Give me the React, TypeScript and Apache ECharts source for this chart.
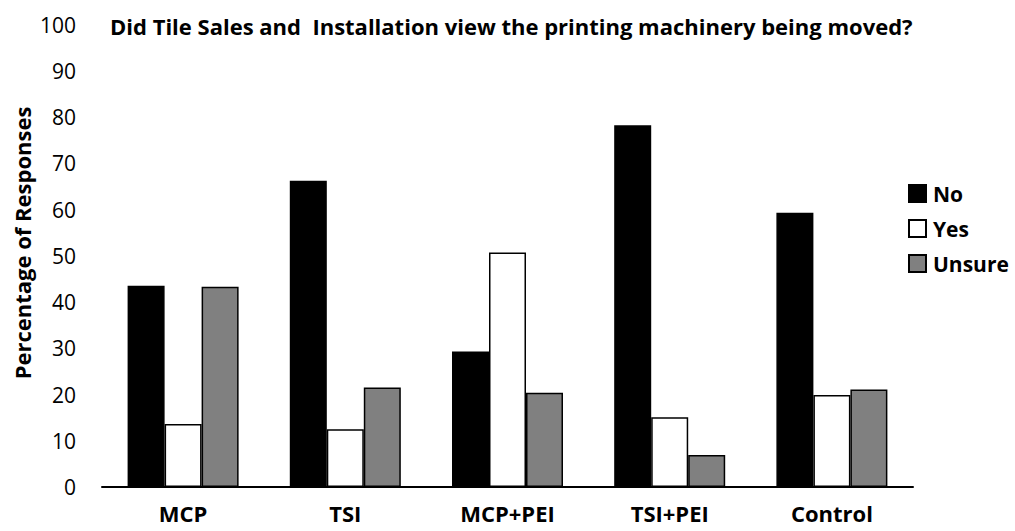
import React, { useEffect, useRef } from "react";
import * as echarts from "echarts";

const categories = ["MCP", "TSI", "MCP+PEI", "TSI+PEI", "Control"];
const noValues = [43.5, 66.2, 29.3, 78.2, 59.3];
const yesValues = [13.6, 12.5, 50.7, 15.1, 19.9];
const unsureValues = [43.3, 21.5, 20.4, 6.9, 21.1];
const yTicks = { min: 0, max: 100, interval: 10 };

const FONT = "Open Sans";

export default function App() {
  const ref = useRef<HTMLDivElement>(null);
  useEffect(() => {
    if (!ref.current) return;
    const chart = echarts.init(ref.current, null, { renderer: "svg" });
    const barStyle = (color: string) => ({
      color,
      borderColor: "#000",
      borderWidth: 1.5,
    });
    chart.setOption({
      animation: false,
      backgroundColor: "#fff",
      title: {
        text: "Did Tile Sales and  Installation view the printing machinery being moved?",
        left: 105,
        top: 10,
        textStyle: { fontFamily: FONT, fontSize: 22, fontWeight: "bold", color: "#000" },
      },
      legend: {
        orient: "vertical",
        left: 903,
        top: 178,
        itemWidth: 17,
        itemHeight: 17,
        itemGap: 14,
        icon: "rect",
        textStyle: { fontFamily: FONT, fontSize: 21, fontWeight: "bold", color: "#000", padding: [0, 0, 0, 2] },
        data: ["No", "Yes", "Unsure"],
      },
      graphic: [
        {
          type: "text",
          x: 22,
          y: 243,
          rotation: Math.PI / 2,
          style: {
            text: "Percentage of Responses",
            fontFamily: FONT,
            fontSize: 22,
            fontWeight: "bold",
            fill: "#000",
            align: "center",
            verticalAlign: "middle",
          },
        },
      ],
      grid: { left: 102, right: 102, top: 24.5, bottom: 44, containLabel: false },
      xAxis: {
        type: "category",
        data: categories,
        axisLine: { show: true, lineStyle: { color: "#000", width: 2 } },
        axisTick: { show: false },
        axisLabel: { fontFamily: FONT, fontSize: 22, fontWeight: "bold", color: "#000", margin: 15 },
      },
      yAxis: {
        type: "value",
        min: yTicks.min,
        max: yTicks.max,
        interval: yTicks.interval,
        axisLine: { show: false },
        axisTick: { show: false },
        splitLine: { show: false },
        axisLabel: { fontFamily: FONT, fontSize: 21, color: "#000", margin: 26 },
      },
      series: [
        { name: "No", type: "bar", data: noValues, barWidth: 37, barGap: "0%", itemStyle: barStyle("#000") },
        { name: "Yes", type: "bar", data: yesValues, barWidth: 37, barGap: "0%", itemStyle: barStyle("#fff") },
        { name: "Unsure", type: "bar", data: unsureValues, barWidth: 37, barGap: "0%", itemStyle: barStyle("#808080") },
      ],
    });
    return () => chart.dispose();
  }, []);
  return <div ref={ref} style={{ width: 1015, height: 531, position: "absolute", left: 0, top: 0 }} />;
}
